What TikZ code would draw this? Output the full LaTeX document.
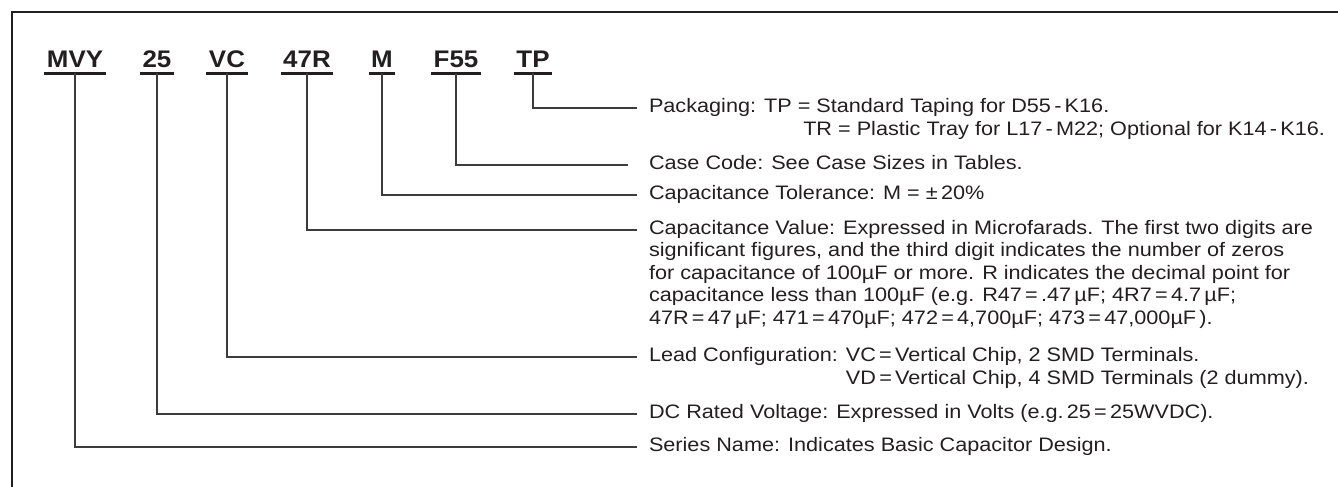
\documentclass[tikz,border=0pt]{standalone}
\usepackage{fontspec}
\setmainfont{Liberation Sans}
\newfontfamily\codefont[FakeStretch=1.08]{Liberation Sans}
\newfontfamily\lblfont[FakeStretch=1.11]{Liberation Sans}
\definecolor{ink}{HTML}{231F20}
\definecolor{wire}{HTML}{3C3C3C}
\begin{document}
\begin{tikzpicture}[x=1pt,y=-1pt,
  frame/.style={draw=ink,line width=2pt},
  code/.style={font=\codefont\bfseries\fontsize{24}{24}\selectfont,text=ink,anchor=base,
    inner xsep=2.5pt,inner ysep=0pt,text depth=0pt,outer sep=0pt},
  uline/.style={draw=ink,line width=2.6pt},
  conn/.style={draw=wire,line width=1.1pt},
  lbl/.style={font=\lblfont\fontsize{19.5}{22}\selectfont,text=ink,anchor=west,
    inner xsep=0pt,inner ysep=0pt,text height=14pt,text depth=5.5pt,outer sep=0pt},
  first/.style={lbl,inner xsep=12pt}]
\useasboundingbox (0,0) rectangle (1338,487);
% frame (cut at right and bottom)
\draw[frame] (1338,12) -- (12,12) -- (12,487);
% code letters
\node[code] (mvy) at (75,67) {MVY};
\node[code] (v25) at (157,67) {25};
\node[code] (vc)  at (227,67) {VC};
\node[code] (r47) at (307,67) {47R};
\node[code] (m)   at (382,67) {M};
\node[code] (f55) at (456,67) {F55};
\node[code] (tp)  at (533,67) {TP};
\foreach \c in {mvy,v25,vc,r47,m,f55,tp}
  \draw[uline] ([yshift=-6.3pt]\c.base west) -- ([yshift=-6.3pt]\c.base east);
% labels
\node[first] (pack) at (637,108) {Packaging: TP = Standard Taping for D55\,-\,K16.};
\node[lbl]   (pack2) at (649,131) {\phantom{Packaging: TP }\hspace{0.28em}TR = Plastic Tray for L17\,-\,M22; Optional for K14\,-\,K16.};
\node[first] (case) at (637,165) {Case Code: See Case Sizes in Tables.};
\node[first] (tol)  at (637,195) {Capacitance Tolerance: M = ±\,20\%};
\node[first] (val)  at (637,230) {Capacitance Value: Expressed in Microfarads. The first two digits are};
\node[lbl]   (val2) at (649,252.5) {significant figures, and the third digit indicates the number of zeros};
\node[lbl]   (val3) at (649,275) {for capacitance of 100µF or more. R indicates the decimal point for};
\node[lbl]   (val4) at (649,297.5) {capacitance less than 100µF (e.g. R47\,=\,.47\,µF; 4R7\,=\,4.7\,µF;};
\node[lbl]   (val5) at (649,320) {47R\,=\,47\,µF; 471\,=\,470µF; 472\,=\,4,700µF; 473\,=\,47,000µF\,).};
\node[first] (lead) at (637,357) {Lead Configuration: VC\,=\,Vertical Chip, 2 SMD Terminals.};
\node[lbl]   (lead2) at (649,380) {\phantom{Lead Configuration: }VD\,=\,Vertical Chip, 4 SMD Terminals (2 dummy).};
\node[first] (dc)   at (637,414) {DC Rated Voltage: Expressed in Volts (e.g.\,25\,=\,25WVDC).};
\node[first] (ser)  at (637,447) {Series Name: Indicates Basic Capacitor Design.};
% connectors
\draw[conn] ([yshift=-6.3pt]tp.base)  |- (pack.west);
\draw[conn,shorten >=9pt] ([yshift=-6.3pt]f55.base) |- (case.west);
\draw[conn] ([yshift=-6.3pt]m.base)   |- (tol.west);
\draw[conn] ([yshift=-6.3pt]r47.base) |- (val.west);
\draw[conn] ([yshift=-6.3pt]vc.base)  |- (lead.west);
\draw[conn] ([yshift=-6.3pt]v25.base) |- (dc.west);
\draw[conn] ([yshift=-6.3pt]mvy.base) |- (ser.west);
\end{tikzpicture}
\end{document}
